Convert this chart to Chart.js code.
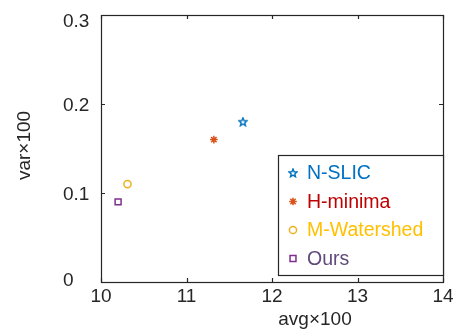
<!DOCTYPE html>
<html>
<head>
<meta charset="utf-8">
<script src="https://cdn.jsdelivr.net/npm/chart.js@4/dist/chart.umd.min.js"></script>
<style>
  body { margin: 0; background: #fff; }
</style>
</head>
<body>
<canvas id="myChart" width="460" height="329"></canvas>
<script>
// data
var methods = ['N-SLIC', 'H-minima', 'M-Watershed', 'Ours'];
var avgValues = [11.66, 11.32, 10.31, 10.2];
var varValues = [0.18, 0.16, 0.11, 0.09];
var xTicks = [10, 11, 12, 13, 14];
var yTicks = [0, 0.1, 0.2, 0.3];

var markerColors = ['#0072BD', '#D95319', '#EDB120', '#7E2F8E'];
var textColors = ['#0070C0', '#C00000', '#FFC000', '#604A7B'];
var FONT = '"Liberation Sans", Arial, sans-serif';
var AXIS = '#262626';

// five pointed star (matlab 'p' marker) drawn on a small canvas
function makePentagram(color) {
    var c = document.createElement('canvas');
    c.width = 10; c.height = 10;
    var g = c.getContext('2d');
    g.strokeStyle = color;
    g.lineWidth = 1.4;
    g.beginPath();
    for (var i = 0; i < 10; i++) {
        var r = (i % 2 === 0) ? 4.3 : 1.9;
        var a = -Math.PI / 2 + i * Math.PI / 5;
        var px = 5 + r * Math.cos(a), py = 5.3 + r * Math.sin(a);
        if (i === 0) g.moveTo(px, py); else g.lineTo(px, py);
    }
    g.closePath();
    g.stroke();
    return c;
}

var pointStyles = [makePentagram(markerColors[0]), 'star', 'circle', 'rect'];
var pointRadius = [5, 3.8, 3.6, 4.2];

var datasets = [];
for (var i = 0; i < methods.length; i++) {
    datasets.push({
        label: methods[i],
        data: [{x: avgValues[i], y: varValues[i]}],
        pointStyle: pointStyles[i],
        pointRadius: pointRadius[i],
        pointHoverRadius: pointRadius[i],
        borderColor: markerColors[i],
        backgroundColor: 'rgba(0,0,0,0)',
        pointBorderWidth: 1.5
    });
}

// box, inward ticks, tick labels, axis titles and the boxed legend
var matlabAxes = {
    id: 'matlabAxes',
    afterDraw: function(chart) {
        var ctx = chart.ctx;
        var a = chart.chartArea;
        var xs = chart.scales.x, ys = chart.scales.y;
        ctx.save();
        ctx.strokeStyle = AXIS;
        ctx.lineWidth = 1.2;
        ctx.strokeRect(Math.round(a.left) + 0.5, Math.round(a.top) + 0.5,
            Math.round(a.right - a.left), Math.round(a.bottom - a.top));

        ctx.fillStyle = AXIS;
        ctx.font = '19px ' + FONT;
        ctx.beginPath();
        xTicks.forEach(function(v) {
            var px = Math.round(xs.getPixelForValue(v)) + 0.5;
            ctx.moveTo(px, a.bottom); ctx.lineTo(px, a.bottom - 4);
            ctx.moveTo(px, a.top); ctx.lineTo(px, a.top + 4);
        });
        yTicks.forEach(function(v) {
            var py = Math.round(ys.getPixelForValue(v)) + 0.5;
            ctx.moveTo(a.left, py); ctx.lineTo(a.left + 4, py);
            ctx.moveTo(a.right, py); ctx.lineTo(a.right - 4, py);
        });
        ctx.stroke();

        ctx.textAlign = 'center';
        ctx.textBaseline = 'alphabetic';
        xTicks.forEach(function(v) {
            ctx.fillText(String(v), xs.getPixelForValue(v), a.bottom + 20);
        });
        ctx.textAlign = 'left';
        yTicks.forEach(function(v) {
            var py = ys.getPixelForValue(v) + 7;
            py = Math.min(Math.max(py, a.top + 12), a.bottom + 4);
            ctx.fillText(String(v), 63, py);
        });

        // axis titles
        ctx.font = '19px ' + FONT;
        ctx.textAlign = 'center';
        ctx.fillText('avg×100', 315, 325);
        ctx.save();
        ctx.translate(30, (a.top + a.bottom) / 2 - 3);
        ctx.rotate(-Math.PI / 2);
        ctx.fillText('var×100', 0, 0);
        ctx.restore();

        // legend
        ctx.fillStyle = '#fff';
        ctx.fillRect(278, 155, 166, 120);
        ctx.strokeStyle = AXIS;
        ctx.lineWidth = 1.2;
        ctx.strokeRect(278.5, 155.5, 165, 120);
        ctx.font = '19.5px ' + FONT;
        ctx.textAlign = 'left';
        ctx.textBaseline = 'middle';
        chart.data.datasets.forEach(function(ds, k) {
            var ry = 173 + k * 28.5;
            ctx.strokeStyle = ds.borderColor;
            ctx.fillStyle = 'rgba(0,0,0,0)';
            ctx.lineWidth = 1.5;
            Chart.helpers.drawPoint(ctx, {
                pointStyle: ds.pointStyle,
                radius: ds.pointRadius,
                rotation: 0,
                borderWidth: 1.5
            }, 293, ry);
            ctx.fillStyle = textColors[k];
            ctx.fillText(ds.label, 307, ry + 1);
        });
        ctx.restore();
    }
};

var ctx = document.getElementById('myChart');
var myChart = new Chart(ctx, {
    type: 'scatter',
    data: { datasets: datasets },
    options: {
        responsive: false,
        animation: false,
        devicePixelRatio: 1,
        layout: { padding: { top: 15, right: 17, left: 0, bottom: 0 } },
        plugins: {
            legend: { display: false },
            tooltip: { enabled: false }
        },
        scales: {
            x: {
                type: 'linear', min: 10, max: 14,
                grid: { display: false },
                border: { display: false },
                ticks: { display: false },
                afterFit: function(scale) { scale.height = 47; }
            },
            y: {
                type: 'linear', min: 0, max: 0.3,
                grid: { display: false },
                border: { display: false },
                ticks: { display: false },
                afterFit: function(scale) { scale.width = 101; }
            }
        }
    },
    plugins: [matlabAxes]
});
</script>
</body>
</html>
